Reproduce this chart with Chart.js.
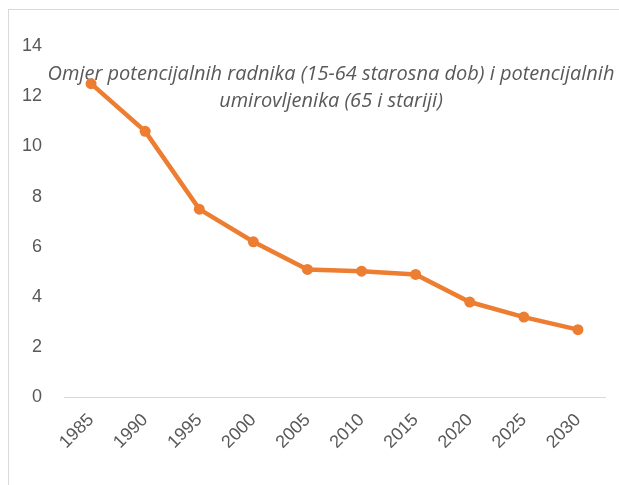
<!DOCTYPE html>
<html>
<head>
<meta charset="utf-8">
<script src="https://cdn.jsdelivr.net/npm/chart.js@4"></script>
<style>
    html, body { margin: 0; padding: 0; background: #fff; overflow: hidden; }
    #clip { position: absolute; left: 0; top: 0; width: 619px; height: 485px; overflow: hidden; }
    #frame { position: absolute; left: 8px; top: 9px; width: 700px; height: 600px; border: 1px solid #d9d9d9; }
    #wrap { position: absolute; left: 0; top: 0; width: 619px; height: 485px; }
</style>
</head>
<body>
<div id="clip">
    <div id="frame"></div>
    <div id="wrap"><canvas id="lineChart"></canvas></div>
</div>
<script>
let years = ["1985", "1990", "1995", "2000", "2005", "2010", "2015", "2020", "2025", "2030"];
let ratio = [12.5, 10.6, 7.5, 6.2, 5.1, 5.03, 4.9, 3.8, 3.2, 2.7];
let titleLines = ["Omjer potencijalnih radnika (15-64 starosna dob) i potencijalnih", "umirovljenika (65 i stariji)"];

document.addEventListener("DOMContentLoaded", () => {
    let canvas = document.getElementById("lineChart");
    initChartLine(canvas);
});

// title sits inside the plot, under the line (like the Excel overlay title)
const overlayTitle = {
    id: "overlayTitle",
    beforeDatasetsDraw(chart) {
        let ctx = chart.ctx;
        ctx.save();
        ctx.font = "italic 20px 'Open Sans'";
        ctx.fillStyle = "#595959";
        ctx.textAlign = "center";
        ctx.textBaseline = "middle";
        titleLines.forEach((t, i) => ctx.fillText(t, 331, 74 + i * 27));
        ctx.restore();
    }
};

function initChartLine(canvas) {
    let data = {
        labels: years,
        datasets: [{
            data: ratio,
            borderColor: "#ED7D31",
            backgroundColor: "#ED7D31",
            borderWidth: 4.5,
            pointRadius: 5.5,
            pointBorderWidth: 0,
            pointBackgroundColor: "#ED7D31",
            tension: 0,
            fill: false
        }]
    };

    let options = {
        responsive: true,
        maintainAspectRatio: false,
        animation: false,
        layout: {
            padding: { left: 0, right: 14, top: 46, bottom: 28 }
        },
        plugins: {
            legend: { display: false },
            title: { display: false },
            tooltip: { enabled: false }
        },
        scales: {
            x: {
                offset: true,
                grid: { display: false, offset: true },
                border: { display: true, color: "#d9d9d9", width: 1 },
                ticks: {
                    color: "#595959",
                    font: { family: "'Liberation Sans'", size: 18 },
                    minRotation: 45,
                    maxRotation: 45,
                    padding: 4
                }
            },
            y: {
                min: 0,
                max: 14,
                grid: { display: false, drawTicks: false },
                border: { display: false },
                ticks: {
                    stepSize: 2,
                    color: "#595959",
                    font: { family: "'Liberation Sans'", size: 18 },
                    padding: 22
                }
            }
        }
    };

    new Chart(canvas, {
        type: "line",
        data: data,
        options: options,
        plugins: [overlayTitle]
    });
}
</script>
</body>
</html>
